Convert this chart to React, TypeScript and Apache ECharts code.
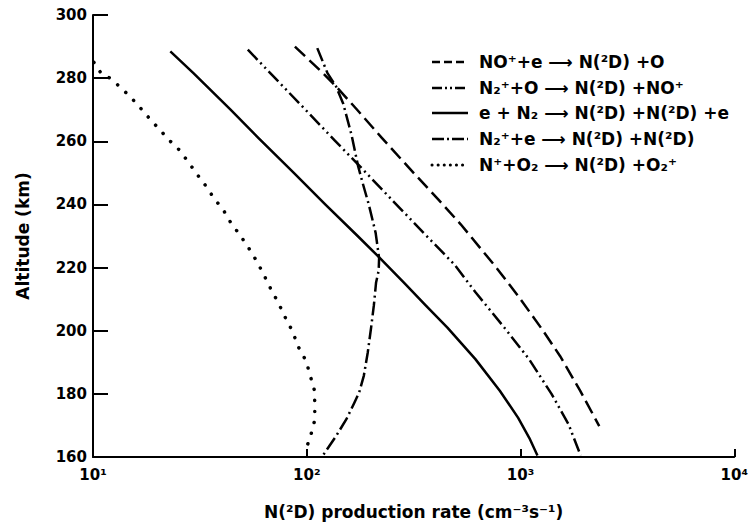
import React, { useEffect, useRef } from "react";
import * as echarts from "echarts";

// Altitude (km) / production rate (cm^-3 s^-1)
// NO+ + e -> N(2D) + O   (dashed)
const altNOp = [290, 281.6, 277.4, 270, 261, 250, 241.6, 233.7, 220.5, 211, 200.5, 192, 181, 169.8];
const valNOp = [88, 119, 137, 172, 225, 316, 412, 525, 760, 975, 1260, 1530, 1900, 2335];

// N2+ + O -> N(2D) + NO+   (dash-dot-dot)
const altN2pO = [289, 281.6, 270, 260.3, 252.1, 241, 231, 221, 212.1, 200.5, 191, 180, 170.3, 160.5];
const valN2pO = [53, 67.5, 98.6, 135, 177, 254, 352, 490, 617, 851, 1096, 1396, 1679, 1910];

// e + N2 -> N(2D) + N(2D) + e   (solid)
const altEN2 = [288.5, 281.6, 270, 261, 250, 240, 230, 223, 215, 208, 201, 191, 181, 172.4, 166, 160.5];
const valEN2 = [23, 29.5, 44, 59.5, 87, 122, 173, 220, 287, 360, 455, 615, 800, 975, 1100, 1200];

// N2+ + e -> N(2D) + N(2D)   (dash-dot)
const altN2pE = [289.5, 281.6, 277.4, 272, 262, 252, 246, 240, 231, 223, 219, 215.3, 208, 201, 193.2, 185.8, 180.5, 177.2, 171.9, 166.6, 161.9, 160.5];
const valN2pE = [112, 125, 137, 148, 162, 174, 184, 195, 210, 218, 217, 211, 206, 200, 193, 185, 176, 167, 153, 137, 123, 119];

// N+ + O2 -> N(2D) + O2+   (dotted)
const altNpO2 = [285, 281.6, 280, 277.2, 274, 270.5, 266.8, 263.7, 260.5, 257.4, 253.6, 249.5, 246, 242, 237.9, 234, 230.5, 226.1, 221.8, 217.7, 213.4, 208.7, 204, 200, 194.6, 190.4, 185.6, 181.1, 176.8, 171.7, 167.5, 164];
const valNpO2 = [10.1, 10.9, 12, 13.4, 15, 16.7, 18.6, 20.5, 22.6, 25.2, 27.8, 30.7, 33.6, 36.8, 41, 44.3, 48.5, 53.6, 58.6, 63, 67.7, 73.8, 79.6, 85.5, 91.8, 99.3, 104, 108.6, 109, 109, 105, 101];

const seriesNames = [
  "NO\u207A+e \u27F6 N(\u00B2D) +O",
  "N\u2082\u207A+O \u27F6 N(\u00B2D) +NO\u207A",
  "e + N\u2082 \u27F6 N(\u00B2D) +N(\u00B2D) +e",
  "N\u2082\u207A+e \u27F6 N(\u00B2D) +N(\u00B2D)",
  "N\u207A+O\u2082 \u27F6 N(\u00B2D) +O\u2082\u207A",
];

const xTickLabels: Record<number, string> = {
  10: "10\u00B9",
  100: "10\u00B2",
  1000: "10\u00B3",
  10000: "10\u2074",
};

const FONT = "DejaVu Sans";

function zip(xs: number[], ys: number[]) {
  return xs.map((x, i) => [x, ys[i]]);
}

export default function App() {
  const ref = useRef<HTMLDivElement>(null);
  useEffect(() => {
    if (!ref.current) return;
    const chart = echarts.init(ref.current, undefined, { renderer: "svg" });
    const dashes: any[] = [
      [14, 6],
      [14, 4, 2, 4, 2, 4],
      "solid",
      [14, 4, 2, 4],
      [0.1, 11],
    ];
    const legendDashes: any[] = [[8, 4], [10, 3, 2, 3, 2, 3], null, [12, 3, 2, 3], [0.1, 6]];
    const widths = [2.5, 2.5, 2.5, 2.5, 3.5];
    const caps = ["butt", "butt", "butt", "butt", "round"];
    const datasets = [
      zip(valNOp, altNOp),
      zip(valN2pO, altN2pO),
      zip(valEN2, altEN2),
      zip(valN2pE, altN2pE),
      zip(valNpO2, altNpO2),
    ];
    const rowY = [62, 88, 113, 139, 165];
    const legendGraphics: any[] = [];
    seriesNames.forEach((name, i) => {
      legendGraphics.push({
        type: "line",
        shape: { x1: 432, y1: rowY[i], x2: 468, y2: rowY[i] },
        style: {
          stroke: "#000",
          lineWidth: i === 4 ? 3 : 2.5,
          lineDash: legendDashes[i],
          lineCap: caps[i],
        },
      });
      legendGraphics.push({
        type: "text",
        x: 479,
        y: rowY[i],
        style: {
          text: name,
          fill: "#000",
          font: `bold 17px "${FONT}"`,
          verticalAlign: "middle",
          align: "left",
        },
      });
    });
    chart.setOption({
      animation: false,
      backgroundColor: "#fff",
      grid: { left: 93, right: 13, top: 15, bottom: 72 },
      graphic: legendGraphics,
      xAxis: {
        type: "log",
        logBase: 10,
        min: 10,
        max: 10000,
        name: "N(\u00B2D) production rate (cm\u207B\u00B3s\u207B\u00B9)",
        nameLocation: "middle",
        nameGap: 46,
        nameTextStyle: { color: "#000", fontFamily: FONT, fontWeight: "bold", fontSize: 17 },
        axisLine: { lineStyle: { color: "#000", width: 2 } },
        axisTick: { inside: true, length: 8, lineStyle: { color: "#000", width: 2 } },
        minorTick: { show: false },
        splitLine: { show: false },
        axisLabel: {
          color: "#000",
          fontFamily: FONT,
          fontWeight: "bold",
          fontSize: 15,
          margin: 10,
          formatter: (v: number) => xTickLabels[Math.round(v)] ?? "",
        },
      },
      yAxis: {
        type: "value",
        min: 160,
        max: 300,
        interval: 20,
        name: "Altitude (km)",
        nameLocation: "middle",
        nameRotate: 90,
        nameGap: 62,
        nameTextStyle: { color: "#000", fontFamily: FONT, fontWeight: "bold", fontSize: 17 },
        axisLine: { show: true, lineStyle: { color: "#000", width: 2 } },
        axisTick: { show: true, inside: true, length: 15, lineStyle: { color: "#000", width: 2 } },
        splitLine: { show: false },
        axisLabel: { color: "#000", fontFamily: FONT, fontWeight: "bold", fontSize: 15, margin: 6 },
      },
      series: datasets.map((d, i) => ({
        name: seriesNames[i],
        type: "line",
        data: d,
        showSymbol: false,
        symbol: "none",
        smooth: false,
        lineStyle: {
          color: "#000",
          width: widths[i],
          type: dashes[i],
          cap: caps[i],
          join: "round",
        },
        itemStyle: { color: "#000" },
      })),
    });
    return () => chart.dispose();
  }, []);
  return (
    <div
      ref={ref}
      style={{ position: "fixed", left: 0, top: 0, width: 751, height: 529, background: "#fff" }}
    />
  );
}
